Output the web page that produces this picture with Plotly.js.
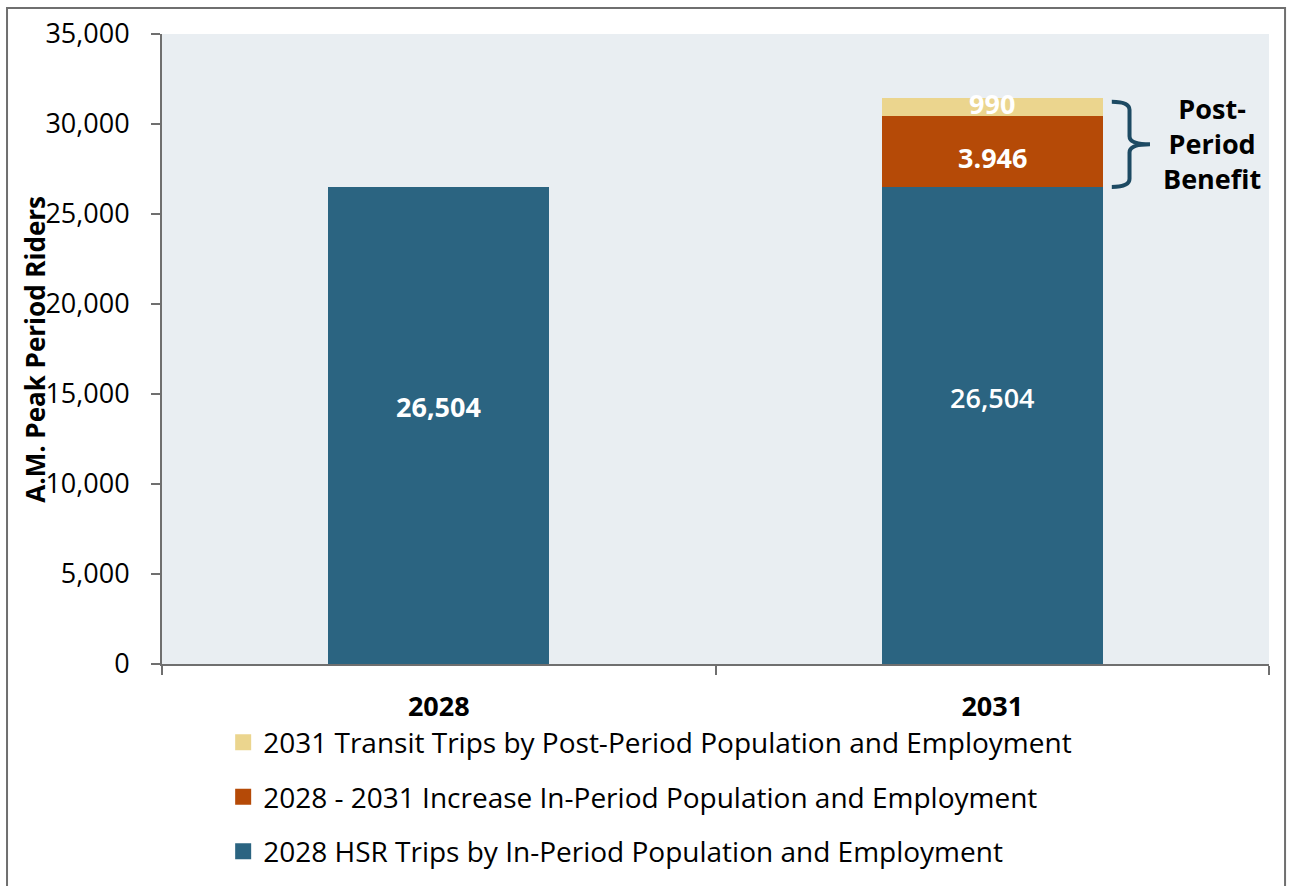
<!DOCTYPE html>
<html>
<head>
<meta charset="utf-8">
<script src="https://cdn.plot.ly/plotly-3.0.1.min.js"></script>
<style>html,body{margin:0;padding:0;background:#fff;}#chart{width:1290px;height:886px;}</style>
</head>
<body>
<div id="chart"></div>
<script>
const categories = ['2028', '2031'];
const seriesNames = [
  '2028 HSR Trips by In-Period Population and Employment',
  '2028 - 2031 Increase In-Period Population and Employment',
  '2031 Transit Trips by Post-Period Population and Employment'
];
const baseTrips = [26504, 26504];
const increaseTrips = [0, 3946];
const postPeriodTrips = [0, 990];
const baseLabels = ['26,504', '26,504'];
const increaseLabel = '3.946';
const postLabel = '990';
const yTickVals = [0, 5000, 10000, 15000, 20000, 25000, 30000, 35000];
const yTickText = ['0', '5,000', '10,000', '15,000', '20,000', '25,000', '30,000', '35,000'];
const colors = ['#2b6481', '#b54a07', '#ebd58e'];
const FONT = '"Open Sans", Lato, sans-serif';

const seriesValues = [baseTrips, increaseTrips, postPeriodTrips];
const traces = seriesValues.map((vals, i) => ({
  type: 'bar', name: seriesNames[i], x: categories, y: vals,
  marker: {color: colors[i]}, showlegend: false, hoverinfo: 'y'
}));
// legend entries with square swatches (no data points), top series listed first
[2, 1, 0].forEach(i => {
  traces.push({
    type: 'scatter', mode: 'markers', name: seriesNames[i], x: [null], y: [null],
    marker: {color: colors[i], symbol: 'square', size: 18},
    legendgroup: 'g' + i, hoverinfo: 'skip'
  });
});

const ci = c => categories.indexOf(c);
const top2031 = baseTrips[1] + increaseTrips[1] + postPeriodTrips[1];
const mid2031 = baseTrips[1] + increaseTrips[1];
const LBL = {family: FONT, size: 27, color: '#ffffff'};

const annotations = [
  {x: ci('2028'), y: baseTrips[0] / 2, text: '<b>' + baseLabels[0] + '</b>', showarrow: false, yshift: 19, font: LBL},
  {x: ci('2031'), y: baseTrips[1] / 2, text: baseLabels[1], showarrow: false, yshift: 28, font: {family: FONT, size: 27, color: '#ffffff', weight: 600}},
  {x: ci('2031'), y: baseTrips[1] + increaseTrips[1] / 2, text: '<b>' + increaseLabel + '</b>', showarrow: false, yshift: -6, font: LBL},
  {x: ci('2031'), y: mid2031 + postPeriodTrips[1] / 2, text: '<b>' + postLabel + '</b>', showarrow: false, yshift: 3, font: LBL},
  {xref: 'paper', x: 0.9485, xanchor: 'center', yref: 'y', y: (top2031 + baseTrips[1]) / 2 - 50, text: '<b>Post-<br>Period<br>Benefit</b>', showarrow: false, align: 'center', font: {family: FONT, size: 27, color: '#000000'}},
  {xref: 'paper', yref: 'paper', x: -0.115, xanchor: 'center', y: 0.5, yanchor: 'middle', text: '<b>A.M. Peak Period Riders</b>', textangle: -90, showarrow: false, font: {family: FONT, size: 26, color: '#000000'}}
];

// brace from data
const yT = top2031 - 200, yB = baseTrips[1], yM = (yT + yB) / 2, d = 450;
const x0 = 0.858, x1 = 0.874, x2 = 0.8925;
const bracePath = `M ${x0},${yT} Q ${x1},${yT} ${x1},${yT - d} L ${x1},${yM + d} Q ${x1},${yM} ${x2},${yM} Q ${x1},${yM} ${x1},${yM - d} L ${x1},${yB + d} Q ${x1},${yB} ${x0},${yB}`;

const shapes = [
  {type: 'path', xref: 'paper', yref: 'y', path: bracePath, line: {color: '#1d4a63', width: 4}},
  {type: 'rect', xref: 'paper', yref: 'paper', x0: -0.14, x1: 1.0145, y0: -0.37, y1: 1.0413, line: {color: '#6f6f6f', width: 2}, layer: 'below'}
];

const layout = {
  width: 1290, height: 886,
  margin: {l: 162, r: 21, t: 34, b: 222, autoexpand: false},
  paper_bgcolor: '#ffffff',
  plot_bgcolor: '#e9eef2',
  barmode: 'stack',
  bargap: 0.6,
  font: {family: FONT, color: '#000000'},
  showlegend: true,
  legend: {
    xref: 'container', yref: 'container',
    x: 0.173, y: 0.19, xanchor: 'left', yanchor: 'top',
    traceorder: 'grouped', tracegroupgap: 15, itemsizing: 'trace',
    font: {family: FONT, size: 28, color: '#000000'},
    bgcolor: 'rgba(0,0,0,0)'
  },
  xaxis: {
    type: 'category', range: [-0.5, 1.5],
    showline: true, linecolor: '#6f6f6f', linewidth: 2,
    ticks: 'outside', tickson: 'boundaries', ticklen: 9, tickcolor: '#6f6f6f', tickwidth: 2,
    tickfont: {family: FONT, size: 27, color: '#000000', weight: 'bold'},
    ticklabelstandoff: 18,
    showgrid: false, zeroline: false, fixedrange: true
  },
  yaxis: {
    range: [0, 35000],
    tickvals: yTickVals, ticktext: yTickText,
    showline: true, linecolor: '#6f6f6f', linewidth: 2,
    ticks: 'outside', ticklen: 9, tickcolor: '#6f6f6f', tickwidth: 2,
    tickfont: {family: FONT, size: 27, color: '#000000'},
    ticklabelstandoff: 16,
    showgrid: false, zeroline: false, fixedrange: true
  },
  annotations: annotations,
  shapes: shapes
};

Plotly.newPlot('chart', traces, layout, {displayModeBar: false, staticPlot: true});
</script>
</body>
</html>
